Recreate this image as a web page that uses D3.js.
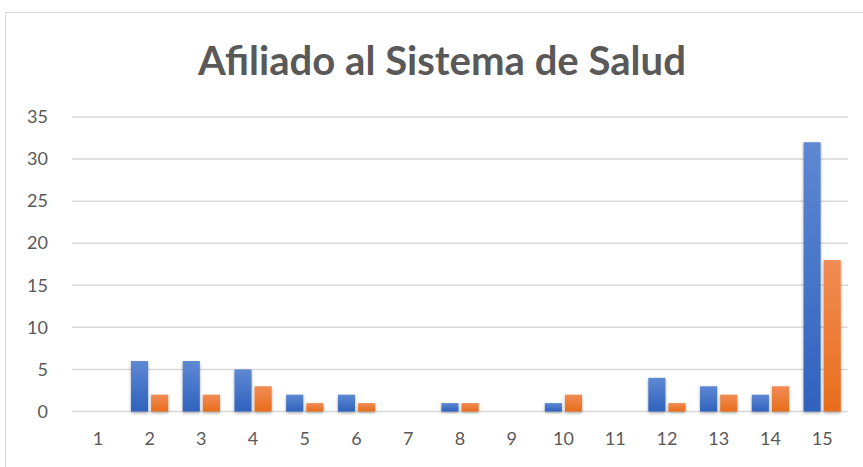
<!DOCTYPE html>
<html>
<head>
<meta charset="utf-8">
<script src="https://cdn.jsdelivr.net/npm/d3@7"></script>
<style>
  html, body { margin: 0; padding: 0; background: #fff; }
  svg { display: block; font-family: Lato, "Open Sans", sans-serif; }
</style>
</head>
<body>
<svg id="chart" width="863" height="467"></svg>
<script>
var categories = ["1", "2", "3", "4", "5", "6", "7", "8", "9", "10", "11", "12", "13", "14", "15"];
var seriesNames = ["Serie1", "Serie2"];
var serie1 = [0, 6, 6, 5, 2, 2, 0, 1, 0, 1, 0, 4, 3, 2, 32];
var serie2 = [0, 2, 2, 3, 1, 1, 0, 1, 0, 2, 0, 1, 2, 3, 18];
var yTicks = [0, 5, 10, 15, 20, 25, 30, 35];
var title = "Afiliado al Sistema de Salud";

var svg = d3.select("#chart");
var plotLeft = 72, plotRight = 848, plotTop = 117, plotBottom = 411.5;

// chart frame
svg.append("rect")
    .attr("x", 5.5).attr("y", 12.5)
    .attr("width", 870).attr("height", 470)
    .attr("fill", "#fff")
    .attr("stroke", "#d9d9d9")
    .attr("stroke-width", 1);

var defs = svg.append("defs");
var shadow = defs.append("filter").attr("id", "shadow")
    .attr("x", "-30%").attr("y", "-10%").attr("width", "160%").attr("height", "130%");
shadow.append("feDropShadow")
    .attr("dx", 0).attr("dy", 1.5).attr("stdDeviation", 1.6)
    .attr("flood-color", "#000").attr("flood-opacity", 0.35);

function gradient(id, c1, c2) {
    var g = defs.append("linearGradient").attr("id", id)
        .attr("x1", 0).attr("y1", 0).attr("x2", 0).attr("y2", 1);
    g.append("stop").attr("offset", "0%").attr("stop-color", c1);
    g.append("stop").attr("offset", "100%").attr("stop-color", c2);
}
gradient("gBlue", "#5f88d2", "#2f62be");
gradient("gOrange", "#f18c55", "#e86d1b");
var fills = ["url(#gBlue)", "url(#gOrange)"];

var y = d3.scaleLinear().domain([0, 35]).range([plotBottom, plotTop]);
var x0 = d3.scaleBand().domain(categories).range([plotLeft, plotRight]).padding(0);
var bw = x0.bandwidth();
var x1 = d3.scaleBand().domain(seriesNames).range([bw * 0.14, bw * 0.86]).paddingInner(0.15);

// grid lines
svg.append("g").selectAll("line")
    .data(yTicks)
    .enter().append("line")
    .attr("x1", plotLeft).attr("x2", plotRight)
    .attr("y1", function(d) { return y(d); })
    .attr("y2", function(d) { return y(d); })
    .attr("stroke", "#d9d9d9")
    .attr("stroke-width", 1.5);

// y labels
var yAxis = svg.append("g")
    .attr("transform", "translate(" + (plotLeft - 24) + ",0)")
    .call(d3.axisLeft(y).tickValues(yTicks).tickSize(0).tickPadding(0));
yAxis.select(".domain").remove();
yAxis.selectAll("text")
    .attr("font-size", 18)
    .attr("font-family", "Lato, sans-serif")
    .attr("fill", "#595959");

// bars
var bars = [];
categories.forEach(function(c, i) {
    [serie1[i], serie2[i]].forEach(function(v, j) {
        if (v > 0) bars.push({ cat: c, s: seriesNames[j], v: v, i: j });
    });
});
svg.append("g").selectAll("rect")
    .data(bars)
    .enter().append("rect")
    .attr("x", function(d) { return x0(d.cat) + x1(d.s); })
    .attr("width", x1.bandwidth())
    .attr("y", function(d) { return y(d.v); })
    .attr("height", function(d) { return y(0) - y(d.v); })
    .attr("fill", function(d) { return fills[d.i]; })
    .attr("filter", "url(#shadow)");

// x labels
var xAxis = svg.append("g")
    .attr("transform", "translate(0," + (plotBottom + 21) + ")")
    .call(d3.axisBottom(x0).tickSize(0).tickPadding(0));
xAxis.select(".domain").remove();
xAxis.selectAll("text")
    .attr("font-size", 18)
    .attr("font-family", "Lato, sans-serif")
    .attr("fill", "#595959")
    .attr("dy", "0.71em");

// title
var t = svg.append("text")
    .attr("x", 442).attr("y", 75)
    .attr("text-anchor", "middle")
    .attr("font-size", 38)
    .attr("font-weight", "bold")
    .attr("fill", "#595959")
    .text(title);
var w = t.node().getComputedTextLength();
t.attr("font-size", 38 * 488 / w);
</script>
</body>
</html>
